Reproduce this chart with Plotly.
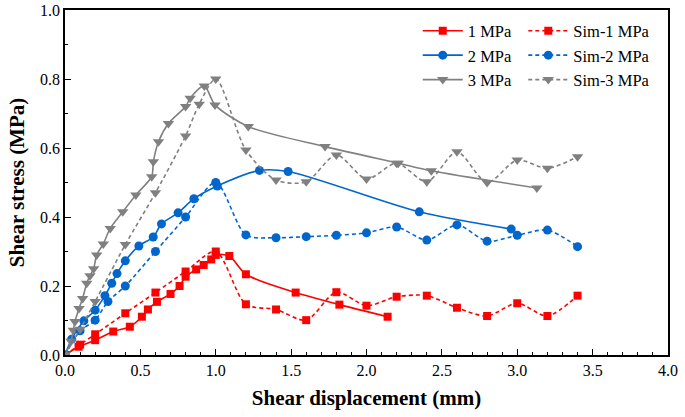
import plotly.graph_objects as go

# ---- data ----
x_1mpa = [0, 0.09, 0.2, 0.32, 0.43, 0.51, 0.55, 0.61, 0.70, 0.76, 0.80, 0.87, 0.92, 0.97, 1.0, 1.09, 1.2, 1.53, 1.82, 2.14]
y_1mpa = [0, 0.024, 0.043, 0.068, 0.082, 0.111, 0.132, 0.154, 0.177, 0.200, 0.227, 0.248, 0.261, 0.277, 0.29, 0.287, 0.234, 0.181, 0.146, 0.111]

x_sim1 = [0, 0.1, 0.2, 0.4, 0.6, 0.8, 1.0, 1.2, 1.4, 1.6, 1.8, 2.0, 2.2, 2.4, 2.6, 2.8, 3.0, 3.2, 3.4]
y_sim1 = [0, 0.03, 0.06, 0.121, 0.181, 0.242, 0.30, 0.147, 0.132, 0.101, 0.182, 0.143, 0.169, 0.172, 0.137, 0.113, 0.150, 0.113, 0.172]

x_2mpa = [0, 0.044, 0.125, 0.2, 0.265, 0.31, 0.345, 0.40, 0.49, 0.585, 0.64, 0.75, 0.855, 1.01, 1.29, 1.48, 2.35, 2.96]
y_2mpa = [0, 0.046, 0.099, 0.13, 0.172, 0.208, 0.236, 0.273, 0.316, 0.342, 0.38, 0.412, 0.453, 0.49, 0.535, 0.532, 0.415, 0.365]

x_sim2 = [0, 0.1, 0.2, 0.285, 0.4, 0.6, 0.8, 1.0, 1.2, 1.4, 1.6, 1.8, 2.0, 2.2, 2.4, 2.6, 2.8, 3.0, 3.2, 3.4]
y_sim2 = [0, 0.07, 0.101, 0.155, 0.2, 0.3, 0.4, 0.5, 0.348, 0.34, 0.343, 0.347, 0.354, 0.371, 0.333, 0.377, 0.33, 0.347, 0.362, 0.314]

x_3mpa = [0, 0.04, 0.055, 0.066, 0.093, 0.117, 0.144, 0.166, 0.19, 0.21, 0.254, 0.30, 0.383, 0.47, 0.575, 0.586, 0.62, 0.686, 0.80, 0.83, 0.924, 0.995, 1.216, 1.725, 2.21, 2.43, 3.13]
y_3mpa = [0, 0.04, 0.072, 0.097, 0.135, 0.164, 0.208, 0.23, 0.25, 0.29, 0.322, 0.367, 0.415, 0.464, 0.517, 0.56, 0.618, 0.671, 0.72, 0.744, 0.78, 0.725, 0.662, 0.604, 0.556, 0.534, 0.484]

x_sim3 = [0, 0.1, 0.2, 0.4, 0.6, 0.8, 0.89, 1.0, 1.2, 1.4, 1.6, 1.8, 2.0, 2.2, 2.4, 2.6, 2.8, 3.0, 3.2, 3.4]
y_sim3 = [0, 0.075, 0.155, 0.32, 0.47, 0.635, 0.727, 0.80, 0.594, 0.507, 0.502, 0.58, 0.51, 0.556, 0.502, 0.589, 0.50, 0.565, 0.541, 0.575]

RED = "#FF0000"
BLUE = "#0066CC"
GRAY = "#808080"
FONT = "Liberation Serif, Times New Roman, serif"
DASH = "4px,3px"

fig = go.Figure()

def add(x, y, name, color, symbol, size, dashed, legend):
    fig.add_trace(go.Scatter(
        x=x, y=y, name=name, mode="lines+markers",
        line=dict(color=color, width=1.6, shape="spline", smoothing=0.8,
                  dash=DASH if dashed else "solid"),
        marker=dict(color=color, symbol=symbol, size=size, line=dict(width=0)),
        legend=legend,
    ))

add(x_1mpa, y_1mpa, "1 MPa", RED, "square", 8, False, "legend")
add(x_2mpa, y_2mpa, "2 MPa", BLUE, "circle", 9, False, "legend")
add(x_3mpa, y_3mpa, "3 MPa", GRAY, "triangle-down", 10, False, "legend")
add(x_sim1, y_sim1, "Sim-1 MPa", RED, "square", 8, True, "legend2")
add(x_sim2, y_sim2, "Sim-2 MPa", BLUE, "circle", 9, True, "legend2")
add(x_sim3, y_sim3, "Sim-3 MPa", GRAY, "triangle-down", 10, True, "legend2")

axis_common = dict(
    showline=True, linecolor="black", linewidth=1.5, mirror=True,
    ticks="inside", ticklen=6, tickwidth=1.3, tickcolor="black",
    showgrid=False, zeroline=False, automargin=False,
    tickfont=dict(family=FONT, size=16, color="black"),
)

fig.update_layout(
    width=685, height=417,
    margin=dict(l=65, r=17, t=10, b=62),
    plot_bgcolor="white", paper_bgcolor="white",
    font=dict(family=FONT, color="black"),
    xaxis=dict(range=[0, 4], dtick=0.5, tick0=0, tickformat=".1f",
               minor=dict(dtick=0.1, ticks="inside", ticklen=3, tickcolor="black", tickwidth=1.2),
               title=dict(text="<b>Shear displacement (mm)</b>", font=dict(family=FONT, size=21), standoff=12),
               **axis_common),
    yaxis=dict(range=[0, 1], dtick=0.2, tick0=0, tickformat=".1f",
               minor=dict(dtick=0.1, ticks="inside", ticklen=3, tickcolor="black", tickwidth=1.2),
               title=dict(text="<b>Shear stress (MPa)</b>", font=dict(family=FONT, size=21), standoff=10),
               **axis_common),
    legend=dict(x=0.585, y=0.99, xanchor="left", yanchor="top",
                font=dict(family=FONT, size=16.5), bgcolor="rgba(0,0,0,0)",
                tracegroupgap=0, itemwidth=40),
    legend2=dict(x=0.76, y=0.99, xanchor="left", yanchor="top",
                 font=dict(family=FONT, size=16.5), bgcolor="rgba(0,0,0,0)",
                 tracegroupgap=0, itemwidth=40),
)

fig.write_html("out.html", config={"displayModeBar": False},
               post_script="document.body.style.margin='0';")
